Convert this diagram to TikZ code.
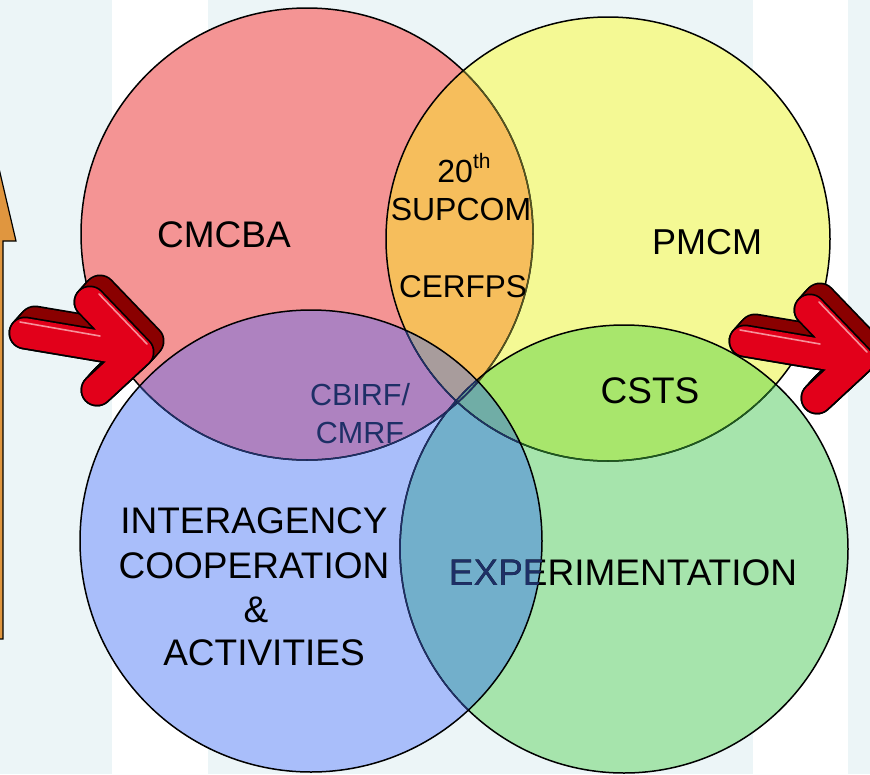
\documentclass[tikz,border=0pt]{standalone}
\usepackage{fontspec}
\setmainfont{Liberation Sans}
\definecolor{bgc}{HTML}{ECF5F7}
\definecolor{redc}{HTML}{F49494}
\definecolor{yelc}{HTML}{F4F994}
\definecolor{bluc}{HTML}{A9BEFA}
\definecolor{grnc}{HTML}{A6E4AC}
\definecolor{orac}{HTML}{F6BE5C}
\definecolor{purc}{HTML}{AE82C0}
\definecolor{limc}{HTML}{A8E66C}
\definecolor{teac}{HTML}{72AFCB}
\definecolor{gryc}{HTML}{A89C9C}
\definecolor{tgc}{HTML}{70ADA6}
\definecolor{navc}{HTML}{1E2F66}
\definecolor{olvc}{HTML}{555520}
\definecolor{dgrc}{HTML}{1E5A1E}
\definecolor{arrred}{HTML}{E2001A}
\definecolor{arrdark}{HTML}{8A0000}
\definecolor{arrhl}{HTML}{F7909A}
\definecolor{orarr}{HTML}{E0963F}
\tikzset{
  lab/.style={inner sep=0pt, anchor=base, text=black, font=\fontsize{37}{44}\selectfont},
  labm/.style={inner sep=0pt, anchor=base, text=black, font=\fontsize{32}{38}\selectfont},
  edge/.style={line width=1.5pt},
  arrline/.style={line cap=round, line join=round},
  redarrow/.pic={
    \foreach \t in {0,...,10}
      \draw[black, line width=33pt, arrline, shift={({\t},{-1.1*\t})}]
        (0,0) -- (113,19) (65,-31) -- (113,19) -- (72,57);
    \foreach \t in {0,...,10}
      \draw[arrdark, line width=29.5pt, arrline, shift={({\t},{-1.1*\t})}]
        (0,0) -- (113,19) (65,-31) -- (113,19) -- (72,57);
    \draw[black, line width=33pt, arrline] (0,0) -- (113,19) (65,-31) -- (113,19) -- (72,57);
    \draw[arrred, line width=29.5pt, arrline] (0,0) -- (113,19) (65,-31) -- (113,19) -- (72,57);
    \draw[arrhl, line width=1.6pt, line cap=round] (-5,-11) -- (75,3) (74,-39) -- (122,11);
  }
}
\begin{document}
\begin{tikzpicture}[x=1pt, y=-1pt]
\clip (0,0) rectangle (870,774);
% background
\fill[bgc] (0,0) rectangle (870,774);
\fill[white] (112,0) rectangle (208,774);
\fill[white] (753,0) rectangle (848,774);
% centres
\coordinate (cr) at (307,234);
\coordinate (cy) at (608,239);
\coordinate (cg) at (624,549);
\coordinate (cb) at (311,541);
% orange arrow at the left edge
\draw[fill=orarr, line width=1.2pt, line join=miter] (-10,130) -- (16,241) -- (3,241) -- (3,639) -- (-10,639) -- cycle;
% base fills
\fill[redc] (cr) circle (226pt);
\fill[yelc] (cy) circle (222pt);
\fill[grnc] (cg) circle (224pt);
\fill[bluc] (cb) circle (231pt);
% overlaps
\begin{scope}
  \clip (cr) circle (226pt);
  \fill[orac] (cy) circle (222pt);
  \fill[purc] (cb) circle (231pt);
\end{scope}
\begin{scope}
  \clip (cy) circle (222pt);
  \fill[limc] (cg) circle (224pt);
\end{scope}
\begin{scope}
  \clip (cb) circle (231pt);
  \fill[teac] (cg) circle (224pt);
\end{scope}
\begin{scope}
  \clip (cy) circle (222pt);
  \clip (cb) circle (231pt);
  \fill[gryc] (0,0) rectangle (870,774);
  \clip (cg) circle (224pt);
  \fill[tgc] (0,0) rectangle (870,774);
\end{scope}
% texts belonging to lower layers
\begin{scope}
  \clip (cr) circle (226pt);
  \node[labm, text=navc, font=\fontsize{30.5}{36}\selectfont] (cbirf) at (360,405) {CBIRF/};
  \node[labm, text=navc, font=\fontsize{30.5}{36}\selectfont] (cmrf) at (360,443) {CMRF};
\end{scope}
% outlines: red
\draw[edge, black] (cr) circle (226pt);
\begin{scope}
  \clip (cy) circle (222pt);
  \draw[edge, olvc] (cr) circle (226pt);
\end{scope}
\begin{scope}
  \clip (cb) circle (231pt);
  \draw[edge, navc] (cr) circle (226pt);
\end{scope}
% outlines: yellow
\draw[edge, black] (cy) circle (222pt);
\begin{scope}
  \clip (cg) circle (224pt);
  \draw[edge, dgrc] (cy) circle (222pt);
\end{scope}
\begin{scope}
  \clip (cb) circle (231pt);
  \draw[edge, navc] (cy) circle (222pt);
\end{scope}
% outlines: green
\draw[edge, black] (cg) circle (224pt);
\begin{scope}
  \clip (cb) circle (231pt);
  \draw[edge, navc] (cg) circle (224pt);
\end{scope}
% outline: blue
\draw[edge, black] (cb) circle (231pt);
% labels
\node[lab] (cmcba) at (224,247) {CMCBA};
\node[lab, font=\fontsize{36}{43}\selectfont] (pmcm) at (707,254) {PMCM};
\node[labm] (twenty) at (464,182) {20\raisebox{0.42em}{\fontsize{21}{21}\selectfont th}};
\node[labm] (supcom) at (461,220) {SUPCOM};
\node[labm, font=\fontsize{31.5}{38}\selectfont] (cerfps) at (463,297) {CERFPS};
\node[lab] (csts) at (650,403) {CSTS};
\node[lab] (inter) at (254,533) {INTERAGENCY};
\node[lab] (coop) at (254,578) {COOPERATION};
\node[lab] (amp) at (256,622) {\&};
\node[lab] (activ) at (264,665) {ACTIVITIES};
\node[lab] (exper) at (623,585) {EXPERIMENTATION};
\begin{scope}
  \clip (cb) circle (231pt);
  \node[lab, text=navc] (experb) at (623,585) {EXPERIMENTATION};
\end{scope}
% red 3D arrows
\pic at (25,333) {redarrow};
\pic at (745,341) {redarrow};
\end{tikzpicture}
\end{document}
